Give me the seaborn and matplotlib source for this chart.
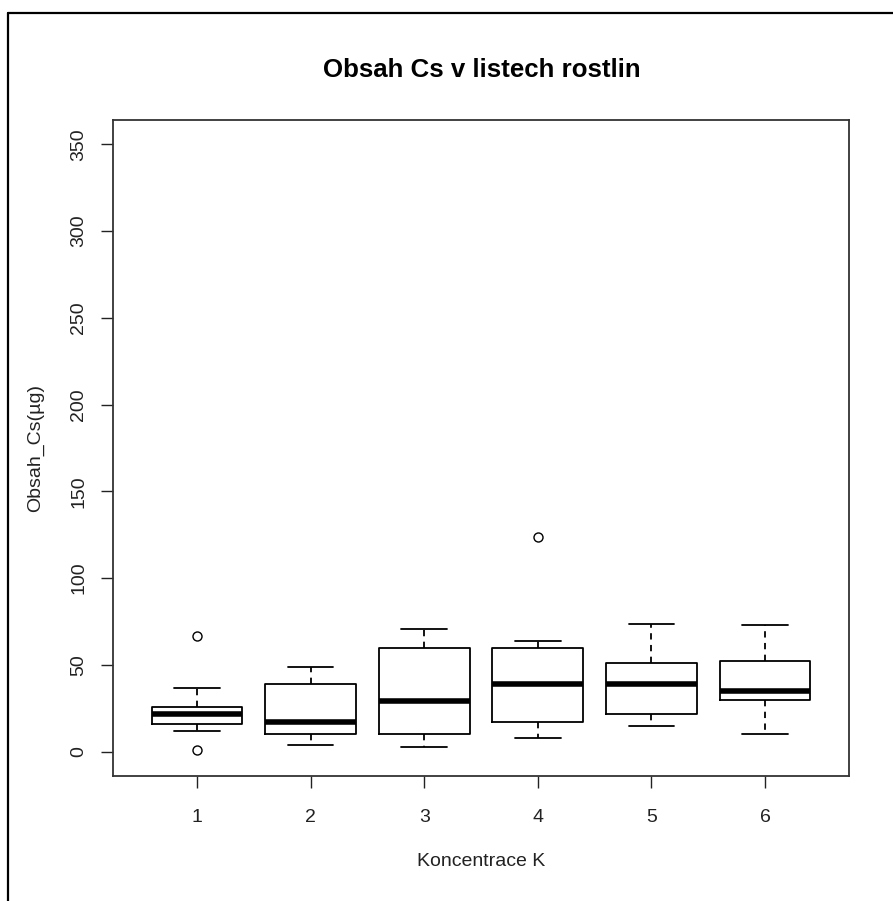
import matplotlib
matplotlib.use("Agg")
import matplotlib.pyplot as plt
from matplotlib.lines import Line2D
import seaborn as sns
import pandas as pd

# ---- data ----
groups = ["1", "2", "3", "4", "5", "6"]
lower_whisker = [11.9, 4.0, 2.5, 8.1, 14.8, 10.4]
q1 = [15.8, 10.4, 10.4, 17.3, 21.9, 29.6]
median = [21.9, 17.3, 29.0, 39.0, 39.0, 35.0]
q3 = [25.7, 39.0, 59.7, 59.7, 51.3, 52.1]
upper_whisker = [36.5, 49.0, 70.7, 63.6, 73.6, 72.8]
outlier_groups = ["1", "1", "4"]
outlier_values = [66.8, 1.0, 123.7]
y_ticks = [0, 50, 100, 150, 200, 250, 300, 350]

title = "Obsah Cs v listech rostlin"
xlabel = "Koncentrace K"
ylabel = "Obsah_Cs(µg)"

rows = []
for g, a, b, c, d, e in zip(groups, lower_whisker, q1, median, q3, upper_whisker):
    for v in (a, b, c, d, e):
        rows.append({"K": g, "Cs": v})
df = pd.DataFrame(rows)
out_df = pd.DataFrame({"K": outlier_groups, "Cs": outlier_values})

sns.set_theme(style="white")
plt.rcParams["font.family"] = ["Liberation Sans", "DejaVu Sans"]

W, H = 893, 901
fig = plt.figure(figsize=(W / 100, H / 100), dpi=100)
fig.patch.set_facecolor("white")
L, R, T, B = 113, 849, 120, 776
ax = fig.add_axes([L / W, 1 - B / H, (R - L) / W, (B - T) / H])

sns.boxplot(data=df, x="K", y="Cs", order=groups, ax=ax, fill=False,
            color="black", linecolor="black", linewidth=1.3, width=0.8,
            whis=(0, 100), showfliers=False,
            medianprops=dict(linewidth=4.0, color="black", solid_capstyle="butt"),
            whiskerprops=dict(linestyle=(0, (3.5, 3)), color="black"),
            capprops=dict(color="black"))

sns.stripplot(data=out_df, x="K", y="Cs", order=groups, ax=ax, jitter=False,
              color="white", edgecolor="black", linewidth=1.0, size=6.5,
              zorder=5)

ax.set_xlim(-0.74, 5.74)
ax.set_ylim(-14, 364)
ax.set_yticks(y_ticks)
ax.set_yticklabels([str(t) for t in y_ticks], rotation=90, va="center")
ax.set_xlabel("")
ax.set_ylabel("")
ax.tick_params(axis="both", which="both", direction="out", length=8.5,
               width=1.0, color="#222222", labelsize=14, labelcolor="#222222",
               bottom=True, left=True)
ax.tick_params(axis="x", pad=15)
ax.tick_params(axis="y", pad=10)
for s in ax.spines.values():
    s.set_visible(True)
    s.set_color("#333333")
    s.set_linewidth(1.3)

fig.text(481.5 / W, 1 - 70 / H, title, ha="center", va="center",
         fontsize=18.6, fontweight="bold", color="black")
fig.text(481 / W, 1 - 862 / H, xlabel, ha="center", va="center",
         fontsize=14, color="#222222")
fig.text(36 / W, 1 - 448 / H, ylabel, ha="center", va="center",
         rotation=90, fontsize=14, color="#222222")

# outer frame (left and top edges visible)
fig.add_artist(Line2D([8 / W, 8 / W], [0, 1 - 13 / H], transform=fig.transFigure,
                      color="black", linewidth=1.6))
fig.add_artist(Line2D([8 / W, 1], [1 - 13 / H, 1 - 13 / H], transform=fig.transFigure,
                      color="black", linewidth=1.6))

fig.savefig("out.png", dpi=100, facecolor="white")
